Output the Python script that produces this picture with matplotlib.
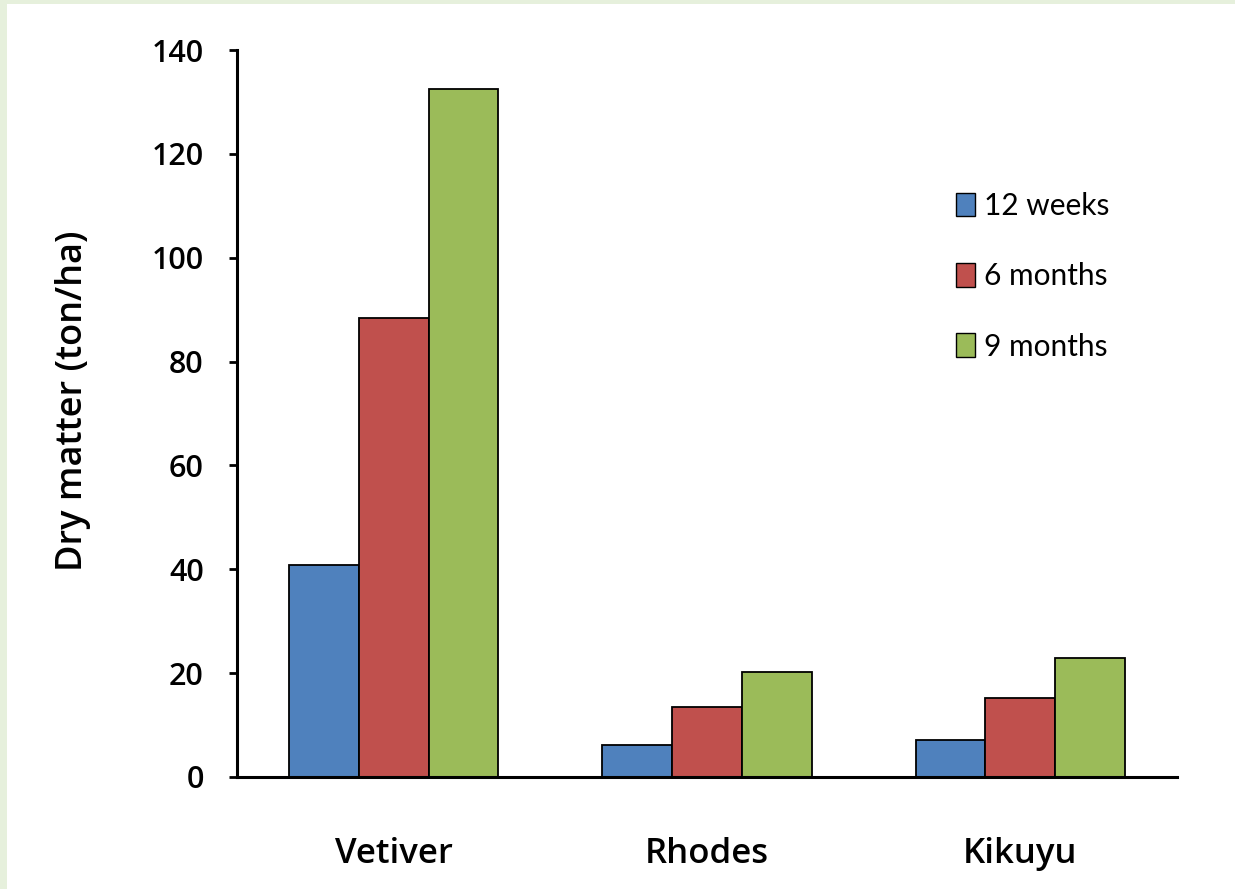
import matplotlib
matplotlib.use('Agg')
import matplotlib.pyplot as plt
import matplotlib.patches as patches
import numpy as np

# Data
categories = ['Vetiver', 'Rhodes', 'Kikuyu']
series = ['12 weeks', '6 months', '9 months']
weeks12 = [40.8, 6.2, 7.1]
months6 = [88.4, 13.5, 15.2]
months9 = [132.5, 20.2, 22.9]
colors = ['#4F81BD', '#C0504D', '#9BBB59']

fig = plt.figure(figsize=(12.35, 8.89), dpi=100)
fig.patch.set_facecolor('#E6F0DC')
# white panel inside the green frame
fig.patches.append(patches.Rectangle((7 / 1235, 0), 1, (889 - 4) / 889,
                                     transform=fig.transFigure, facecolor='white',
                                     edgecolor='none', zorder=-10))

ax = fig.add_axes([237 / 1235, 1 - 777 / 889, (1177 - 237) / 1235, (777 - 50) / 889])
ax.set_facecolor('none')

x = np.arange(len(categories))
w = 0.223
for i, vals in enumerate([weeks12, months6, months9]):
    ax.bar(x + (i - 1) * w, vals, w, color=colors[i], edgecolor='black',
           linewidth=1.3, label=series[i])

ax.set_xlim(-0.5, 2.5)
ax.set_ylim(0, 140)
ax.set_yticks(range(0, 141, 20))
ax.set_xticks(x)
ax.set_xticklabels(categories)

for s in ['top', 'right']:
    ax.spines[s].set_visible(False)
for s in ['left', 'bottom']:
    ax.spines[s].set_linewidth(2.2)

ax.tick_params(axis='y', length=6, width=2, pad=18, labelsize=22)
ax.tick_params(axis='x', length=0, pad=43, labelsize=25)
for lab in ax.get_xticklabels() + ax.get_yticklabels():
    lab.set_fontfamily('Open Sans')
    lab.set_fontweight('semibold')

fig.text(73 / 1235, 1 - 401 / 889, 'Dry matter (ton/ha)', rotation=90,
         ha='center', va='center', fontsize=26, fontfamily='Open Sans',
         fontweight='semibold')

leg = ax.legend(loc='upper left', bbox_to_anchor=(0.765, 0.805), frameon=False,
                prop={'family': 'Lato', 'size': 21.5}, handlelength=0.62,
                handleheight=0.85, handletextpad=0.33, labelspacing=1.42,
                borderpad=0, borderaxespad=0)
for h in leg.legend_handles:
    h.set_linewidth(1.0)

plt.savefig('out.png', dpi=100)
